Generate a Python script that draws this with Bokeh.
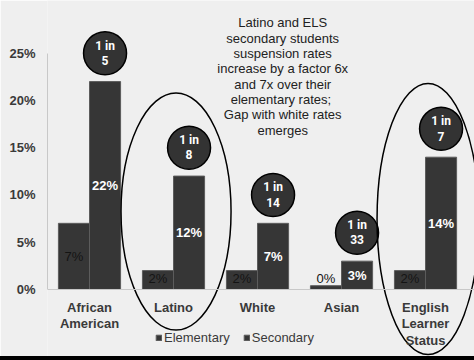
from bokeh.plotting import figure
from bokeh.models import (Range1d, LinearAxis, FixedTicker, PrintfTickFormatter, Span,
                          Legend, LegendItem, ColumnDataSource, Label, Div)
from bokeh.layouts import column
from bokeh.embed import file_html
from bokeh.resources import INLINE
from bokeh.core.properties import value

# ---------------- data ----------------
categories = ["African\nAmerican", "Latino", "White", "Asian", "English\nLearner\nStatus"]
elementary = [7.0, 2.0, 2.0, 0.4, 2.0]
secondary = [22.0, 12.0, 7.0, 3.0, 14.0]
elem_labels = ["7%", "2%", "2%", "0%", "2%"]
sec_labels = ["22%", "12%", "7%", "3%", "14%"]
odds_labels = ["1 in\n5", "1 in\n8", "1 in\n14", "1 in\n33", "1 in\n7"]
y_ticks = [0, 5, 10, 15, 20, 25]
highlighted = [1, 4]  # Latino, English Learner Status
note = ("Latino and ELS\nsecondary students\nsuspension rates\nincrease by a factor 6x\n"
        "and 7x over their\nelementary  rates;\nGap with white rates\nemerges")

# ---------------- layout / style ----------------
BG = "#efefef"
BAR = "#363636"
BAR_EDGE = "#5c5c5c"
TXT = "#3a3a3a"
bw = 0.37

xs = list(range(len(categories)))
src = ColumnDataSource(dict(
    xe=[x - bw / 2 for x in xs],
    xsec=[x + bw / 2 for x in xs],
    elem=elementary,
    sec=secondary,
    elem_mid=[max(v / 2, 1.2) for v in elementary],
    sec_mid=[v / 2 for v in secondary],
    circ_y=[v + 3.0 for v in secondary],
    elem_lab=elem_labels,
    sec_lab=sec_labels,
    odds=odds_labels,
))

p = figure(width=474, height=356, x_range=Range1d(-0.5, 4.583), y_range=Range1d(-7.09, 30.58),
           x_axis_location=None, y_axis_location=None, toolbar_location=None,
           output_backend="svg", min_border=0, min_border_left=47,
           background_fill_color=BG, border_fill_color=BG, outline_line_color=None,
           margin=0)
p.xgrid.visible = False
p.ygrid.visible = False

yaxis = LinearAxis(ticker=FixedTicker(ticks=y_ticks), formatter=PrintfTickFormatter(format="%d%%"),
                   bounds=(0, 25))
yaxis.axis_line_color = "#c8c8c8"
yaxis.major_tick_line_color = None
yaxis.minor_tick_line_color = None
yaxis.major_tick_out = 0
yaxis.major_tick_in = 0
yaxis.major_label_standoff = 12
yaxis.major_label_text_font = "Liberation Sans"
yaxis.major_label_text_font_style = "bold"
yaxis.major_label_text_font_size = "13px"
yaxis.major_label_text_color = TXT
p.add_layout(yaxis, "left")

p.add_layout(Span(location=0, dimension="width", line_color="#c8c8c8", line_width=1))

r_elem = p.vbar(x="xe", top="elem", bottom=0, width=bw, source=src,
                fill_color=BAR, line_color=BAR_EDGE, line_width=1)
r_sec = p.vbar(x="xsec", top="sec", bottom=0, width=bw, source=src,
               fill_color=BAR, line_color=BAR_EDGE, line_width=1)

p.text(x="xe", y="elem_mid", text="elem_lab", source=src, text_align="center",
       text_baseline="middle", text_font=value("Liberation Sans"), text_font_size="13px",
       text_color="#141414")
p.text(x="xsec", y="sec_mid", text="sec_lab", source=src, text_align="center",
       text_baseline="middle", text_font=value("Liberation Sans"), text_font_size="13px",
       text_font_style="bold", text_color="white")

# odds circles
p.scatter(x="xsec", y="circ_y", source=src, marker="circle", size=43,
          fill_color="#333333", line_color="black", line_width=1.5)
p.text(x="xsec", y="circ_y", text="odds", source=src, text_align="center",
       text_baseline="middle", text_font=value("Roboto"), text_font_size="12px",
       text_font_style="bold", text_color="white", text_line_height=1.1)

# highlight ellipses
p.ellipse(x=[xs[i] + 0.03 for i in highlighted], y=[8.25, 7.46], width=[1.31, 1.214],
          height=[25.1, 28.7], fill_color=None, line_color="black", line_width=1.5)

# category labels
p.text(x=xs, y=[-1.1] * len(xs), text=categories, text_align="center", text_baseline="top",
       text_font=value("Liberation Sans"), text_font_size="13px", text_font_style="bold",
       text_color=TXT, text_line_height=1.1)

# note
p.add_layout(Label(x=2.3, y=29.0, text=note, text_align="center", text_baseline="top",
                   text_font="Liberation Sans", text_font_size="13px", text_color="#222222",
                   text_line_height=1.02))

legend = Legend(items=[LegendItem(label="Elementary", renderers=[r_elem]),
                       LegendItem(label="Secondary", renderers=[r_sec])],
                orientation="horizontal", location=(108, 11), background_fill_alpha=0,
                border_line_color=None, padding=0, margin=0, spacing=13,
                glyph_width=7, glyph_height=7, label_standoff=2, label_height=14,
                label_text_font="Liberation Sans", label_text_font_size="13px",
                label_text_color=TXT)
p.add_layout(legend)

# black rule under the slide
bottom_rule = Div(text="", width=474, height=4, margin=0,
                  styles={"background-color": "black", "display": "block"})
layout = column(p, bottom_rule, spacing=0, margin=0)

open("out.html", "w").write(file_html(layout, INLINE))
